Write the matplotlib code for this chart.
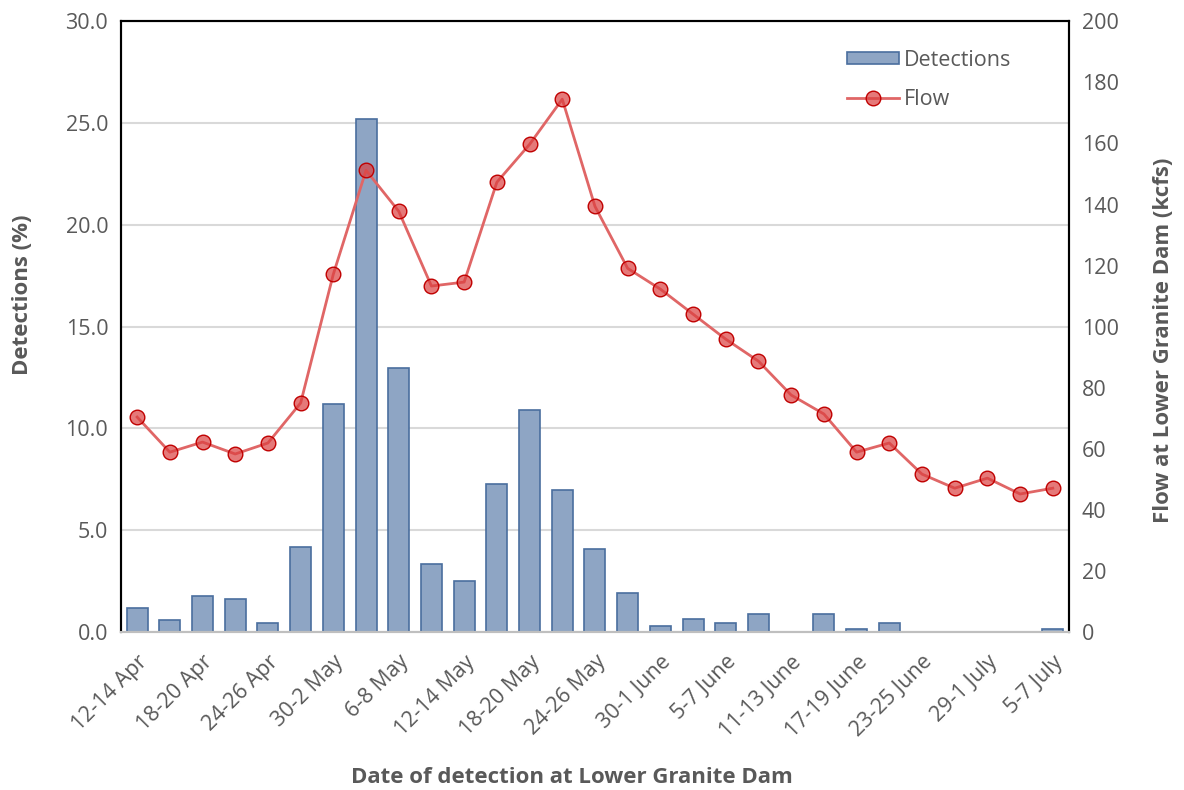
import numpy as np
import matplotlib.pyplot as plt

plt.rcParams['font.family'] = ['Open Sans', 'DejaVu Sans']

# 3-day detection windows at Lower Granite Dam
periods = ["12-14 Apr", "15-17 Apr", "18-20 Apr", "21-23 Apr", "24-26 Apr", "27-29 Apr",
           "30-2 May", "3-5 May", "6-8 May", "9-11 May", "12-14 May", "15-17 May",
           "18-20 May", "21-23 May", "24-26 May", "27-29 May", "30-1 June", "2-4 June",
           "5-7 June", "8-10 June", "11-13 June", "14-16 June", "17-19 June", "20-22 June",
           "23-25 June", "26-28 June", "29-1 July", "2-4 July", "5-7 July"]

detections = [1.2, 0.6, 1.75, 1.6, 0.43, 4.2, 11.2, 25.2, 12.95, 3.35, 2.5, 7.25,
              10.9, 7.0, 4.08, 1.9, 0.3, 0.62, 0.43, 0.87, 0.0, 0.87, 0.13, 0.43,
              0.0, 0.0, 0.0, 0.0, 0.13]

flow = [70.4, 58.9, 62.2, 58.3, 61.9, 75.0, 117.2, 151.2, 137.8, 113.3, 114.6, 147.3,
        159.7, 174.5, 139.4, 119.1, 112.3, 104.1, 95.9, 88.7, 77.6, 71.4, 58.9, 61.9,
        51.7, 47.1, 50.4, 45.2, 47.1]

text_col = "#595959"
x = np.arange(len(periods))

fig, ax = plt.subplots(figsize=(11.84, 7.90), dpi=100)
fig.subplots_adjust(left=0.102, right=0.903, top=0.973, bottom=0.2)

bars = ax.bar(x, detections, 0.64, color="#8EA5C4", edgecolor="#4A6E9E",
              linewidth=1.2, label="Detections", zorder=2)
ax.set_xlim(-0.5, len(periods) - 0.5)
ax.set_ylim(0, 30)
ax.set_yticks(np.arange(0, 30.1, 5))
ax.set_yticklabels([f"{v:.1f}" for v in np.arange(0, 30.1, 5)])
ax.grid(axis="y", color="#D9D9D9", linewidth=1.5, zorder=0)
ax.set_axisbelow(True)

ax.set_xticks(x[::2])
ax.set_xticklabels(periods[::2], rotation=45, ha="right", rotation_mode="anchor")

ax2 = ax.twinx()
line, = ax2.plot(x, flow, color="#E06666", linewidth=2, marker="o", markersize=10.5,
                 markerfacecolor=(0.86, 0.25, 0.25, 0.7), markeredgecolor="#C00000",
                 markeredgewidth=1, label="Flow", zorder=3)
ax2.set_ylim(0, 200)
ax2.set_yticks(np.arange(0, 201, 20))

for a in (ax, ax2):
    a.tick_params(length=0, labelsize=15.5, colors=text_col, pad=9)
    for side in ("left", "right", "top"):
        a.spines[side].set_color("black")
        a.spines[side].set_linewidth(1.5)
    a.spines["bottom"].set_color("#BFBFBF")
    a.spines["bottom"].set_linewidth(1.5)
ax.tick_params(axis="x", pad=14)

ax.set_ylabel("Detections (%)", fontsize=16, fontweight="bold", color=text_col)
ax2.set_ylabel("Flow at Lower Granite Dam (kcfs)", fontsize=16, fontweight="bold",
               color=text_col)
ax.set_xlabel("Date of detection at Lower Granite Dam", fontsize=16, fontweight="bold",
              color=text_col)
ax.yaxis.set_label_coords(-0.104, 0.552)
ax2.yaxis.set_label_coords(1.099, 0.478)
ax.xaxis.set_label_coords(0.476, -0.239)
for lab in (ax.yaxis.label, ax2.yaxis.label, ax.xaxis.label):
    lab.set_va("center")

leg = ax2.legend([bars, line], ["Detections", "Flow"], loc="upper left",
                 bbox_to_anchor=(0.745, 0.985), frameon=False, fontsize=15.5,
                 labelspacing=0.85, handlelength=2.45, handleheight=0.5,
                 handletextpad=0.2)
for t in leg.get_texts():
    t.set_color(text_col)

fig.savefig("out.png", dpi=100)
